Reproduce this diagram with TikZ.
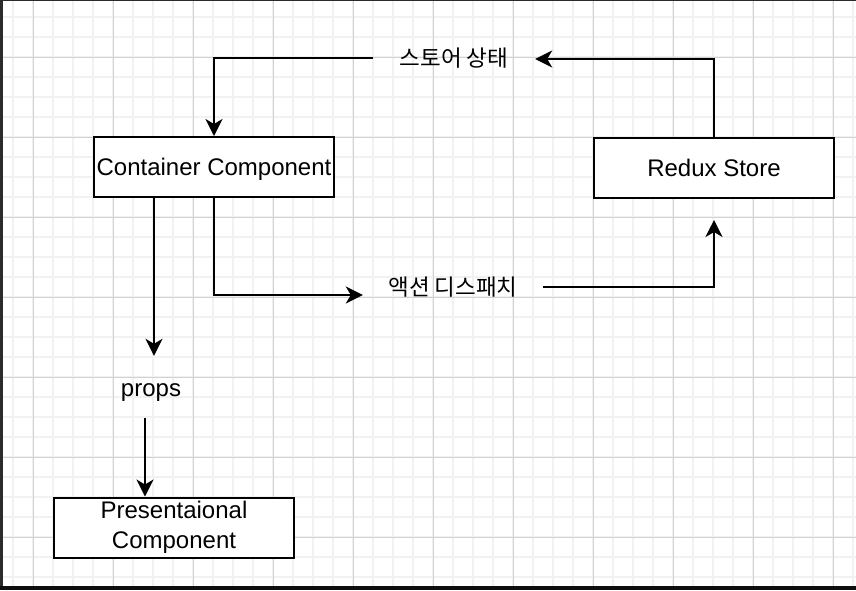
\documentclass[tikz,border=0pt]{standalone}
\usepackage{fontspec}
\setmainfont{Liberation Sans}
\newfontfamily\krfont{Noto Sans CJK KR}
\usetikzlibrary{arrows.meta}
\definecolor{minorgrid}{HTML}{F1F1F1}
\definecolor{majorgrid}{HTML}{D2D2D2}
\definecolor{edgedark}{HTML}{2B2B2B}
\definecolor{edgeblack}{HTML}{0E0E0E}
\tikzset{
  boxnode/.style={draw=black, line width=2pt, fill=white, minimum width=240pt, minimum height=60pt,
    inner sep=0pt, font=\fontsize{24}{29.5}\selectfont, text height=17.2pt, text depth=0pt},
  krlabel/.style={inner sep=0pt, font=\krfont\fontsize{22.5}{26}\selectfont},
  enlabel/.style={inner sep=0pt, font=\fontsize{24}{29}\selectfont},
  arr/.style={line width=2pt, -{Stealth[length=17pt,width=17pt,inset=5pt]}},
  plainline/.style={line width=2pt}
}
\begin{document}
\begin{tikzpicture}[x=1pt,y=-1pt]
\useasboundingbox (0,0) rectangle (856,590);
\fill[white] (0,0) rectangle (856,590);
% grid
\foreach \x in {13,33,...,853} \draw[minorgrid, line width=1.5pt] (\x,0) -- (\x,590);
\foreach \y in {17,37,...,577} \draw[minorgrid, line width=1.5pt] (0,\y) -- (856,\y);
\foreach \x in {33,113,...,833} \draw[majorgrid, line width=1pt] (\x,0) -- (\x,590);
\foreach \y in {57,137,...,537} \draw[majorgrid, line width=1pt] (0,\y) -- (856,\y);
% window edges
\fill[edgedark] (0,0) rectangle (3,586);
\fill[edgedark] (0,0) rectangle (856,1.3);
\fill[edgeblack] (0,586) rectangle (856,590);
% nodes
\node[boxnode] (cont) at (214,167) {Container Component};
\node[boxnode] (redux) at (714,168) {Redux Store};
\node[boxnode, align=center, text height=, text depth=] (pres) at (174,527.5) {Presentaional\\Component};
\node[krlabel, minimum width=162pt] (st) at (454,58) {스토어 상태};
\node[krlabel, minimum width=180pt] (act) at (453,287) {액션 디스패치};
\node[enlabel, minimum height=62pt, text height=22pt, text depth=4pt] (props) at (151,387) {props};
% connectors
\draw[arr] (redux.north) |- ([yshift=-1pt]st.east);
\draw[arr] (st.west) -| (cont.north);
\draw[arr] (cont.south) |- ([yshift=-8pt]act.west);
\draw[arr] (act.east) -| ([yshift=-21pt]redux.south);
\coordinate (pt) at ([xshift=3pt]props.north);
\coordinate (pb) at ([xshift=-6pt]props.south);
\draw[arr] (cont.south -| pt) -- (pt);
\draw[arr] (pb) -- (pb |- pres.north);
\end{tikzpicture}
\end{document}
